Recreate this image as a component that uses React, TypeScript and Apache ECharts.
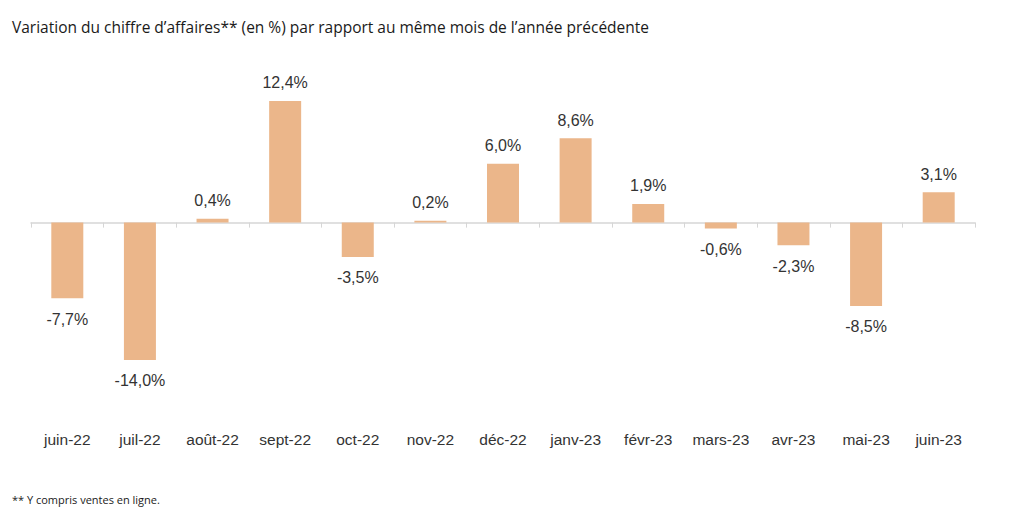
import React, { useEffect, useRef } from "react";
import * as echarts from "echarts";

const categories = [
  "juin-22", "juil-22", "août-22", "sept-22", "oct-22", "nov-22", "déc-22",
  "janv-23", "févr-23", "mars-23", "avr-23", "mai-23", "juin-23",
];
const values = [-7.7, -14.0, 0.4, 12.4, -3.5, 0.2, 6.0, 8.6, 1.9, -0.6, -2.3, -8.5, 3.1];
const titleText = "Variation du chiffre d’affaires** (en %) par rapport au même mois de l’année précédente";
const footnoteText = "** Y compris ventes en ligne.";

const BAR_COLOR = "#EBB68A";
const TEXT_COLOR = "#333333";

export default function App() {
  const ref = useRef<HTMLDivElement>(null);
  useEffect(() => {
    if (!ref.current) return;
    const chart = echarts.init(ref.current, null, { renderer: "svg" });
    const fmt = (v: number) => v.toFixed(1).replace(".", ",") + "%";
    chart.setOption({
      animation: false,
      backgroundColor: "#ffffff",
      title: {
        text: titleText,
        left: 12,
        top: 17,
        padding: 0,
        textStyle: {
          fontFamily: "Open Sans",
          fontSize: 15.5,
          fontWeight: "normal",
          color: "#1a1a1a",
          lineHeight: 20,
        },
      },
      graphic: [
        {
          type: "text",
          left: 12,
          top: 494,
          style: {
            text: footnoteText,
            font: "11px 'Open Sans'",
            fill: "#1a1a1a",
          },
        },
      ],
      grid: { left: 31, right: 49, top: 85.3, bottom: 103.3, containLabel: false },
      xAxis: [
        {
          type: "category",
          data: categories,
          position: "bottom",
          axisLine: { show: false, onZero: false },
          axisTick: { show: false },
          axisLabel: {
            color: TEXT_COLOR,
            fontFamily: "Liberation Sans",
            fontSize: 15.5,
            margin: 8,
            interval: 0,
          },
        },
        {
          type: "category",
          data: categories,
          position: "bottom",
          axisLine: { show: true, onZero: true, lineStyle: { color: "#d6d6d6", width: 1.5 } },
          axisTick: { show: true, length: 5, lineStyle: { color: "#d6d6d6", width: 1 } },
          axisLabel: { show: false },
        },
      ],
      yAxis: {
        type: "value",
        min: -20.5,
        max: 14,
        show: false,
        splitLine: { show: false },
      },
      series: [
        {
          type: "bar",
          xAxisIndex: 0,
          barWidth: 32,
          data: values.map((v) => ({
            value: v,
            label: { position: v >= 0 ? "top" : "bottom", distance: v >= 0 ? 10 : 13 },
          })),
          itemStyle: { color: BAR_COLOR },
          label: {
            show: true,
            distance: 10,
            color: TEXT_COLOR,
            fontFamily: "Liberation Sans",
            fontSize: 16,
            formatter: (p: any) => fmt(p.value),
          },
        },
      ],
    });
    return () => chart.dispose();
  }, []);
  return (
    <div
      ref={ref}
      style={{ position: "fixed", left: 0, top: 0, width: 1024, height: 527 }}
    />
  );
}
